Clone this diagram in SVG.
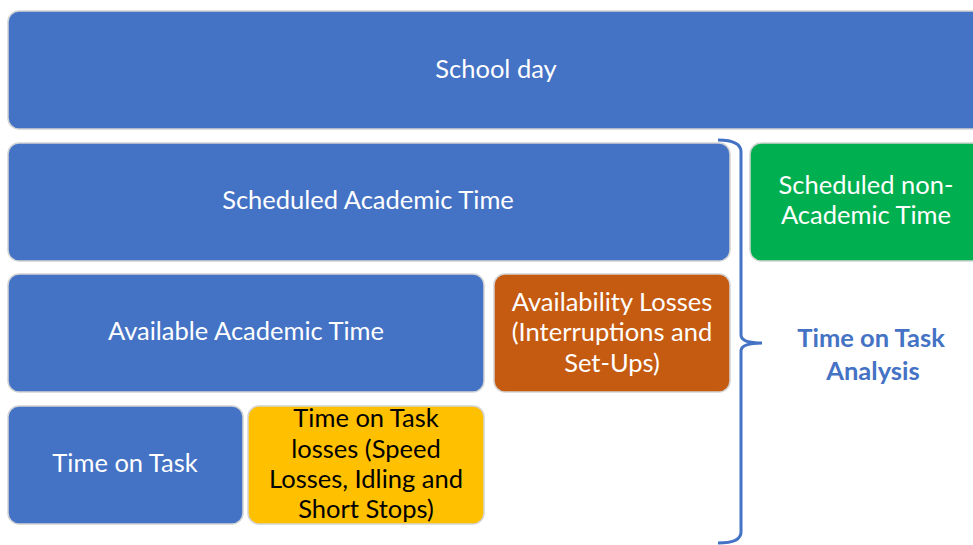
<svg xmlns="http://www.w3.org/2000/svg" width="973" height="545" viewBox="0 0 973 545">
  <style>
    .box { stroke: #d4d4d4; stroke-width: 1.5; }
    .blue { fill: #4472C4; }
    .green { fill: #00B050; }
    .orange { fill: #C55A11; }
    .yellow { fill: #FFC000; }
    .lbl { font-family: Lato, "Open Sans", "Liberation Sans", sans-serif; font-size: 25.5px; text-anchor: middle; fill: #ffffff; }
    .dark { fill: #000000; }
    .note { font-family: Lato, "Open Sans", "Liberation Sans", sans-serif; font-size: 25.5px; font-weight: bold; text-anchor: middle; fill: #4472C4; }
  </style>
  <rect width="973" height="545" fill="#ffffff"/>

  <g id="school-day">
    <rect class="box blue" x="8" y="11" width="980" height="118" rx="11"/>
    <text class="lbl" x="496" y="78">School day</text>
  </g>

  <g id="scheduled-academic">
    <rect class="box blue" x="8" y="143" width="722" height="118" rx="11"/>
    <text class="lbl" x="368" y="209">Scheduled Academic Time</text>
  </g>

  <g id="scheduled-non-academic">
    <rect class="box green" x="750" y="143" width="240" height="118" rx="11"/>
    <text class="lbl" x="866" y="194">Scheduled non-</text>
    <text class="lbl" x="866" y="224">Academic Time</text>
  </g>

  <g id="available-academic">
    <rect class="box blue" x="8" y="274" width="476" height="118" rx="11"/>
    <text class="lbl" x="246" y="340">Available Academic Time</text>
  </g>

  <g id="availability-losses">
    <rect class="box orange" x="494" y="274" width="236" height="118" rx="11"/>
    <text class="lbl" x="612" y="311">Availability Losses</text>
    <text class="lbl" x="612" y="341">(Interruptions and</text>
    <text class="lbl" x="612" y="372">Set-Ups)</text>
  </g>

  <g id="time-on-task">
    <rect class="box blue" x="8" y="406" width="235" height="118" rx="11"/>
    <text class="lbl" x="125" y="472">Time on Task</text>
  </g>

  <g id="time-on-task-losses">
    <rect class="box yellow" x="248" y="406" width="236" height="118" rx="11"/>
    <text class="lbl dark" x="366" y="427">Time on Task</text>
    <text class="lbl dark" x="366" y="458">losses (Speed</text>
    <text class="lbl dark" x="366" y="488">Losses, Idling and</text>
    <text class="lbl dark" x="366" y="518">Short Stops)</text>
  </g>

  <g id="connectors">
    <path d="M718 140 Q741 140 741 152 L741 335 Q741 343 762 343 Q741 343 741 351 L741 532 Q741 543 718 543" fill="none" stroke="#4472C4" stroke-width="3"/>
  </g>

  <g id="analysis-label">
    <text class="note" x="871" y="347">Time on Task</text>
    <text class="note" x="873" y="380">Analysis</text>
  </g>
</svg>
